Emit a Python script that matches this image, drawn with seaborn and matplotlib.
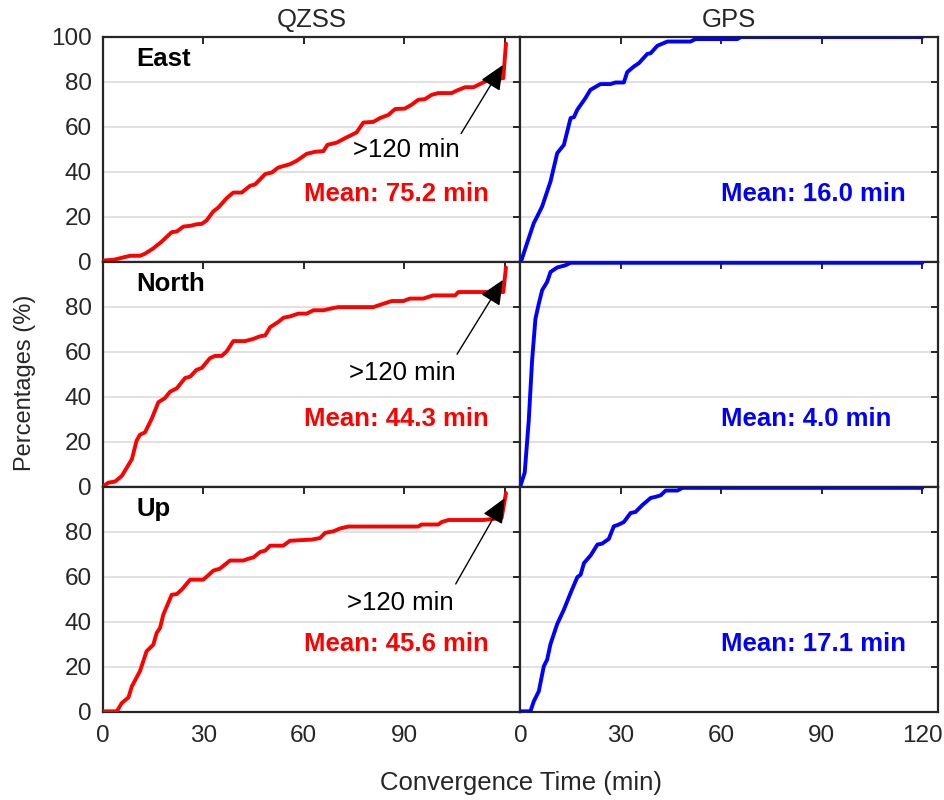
import numpy as np
import pandas as pd
import matplotlib
matplotlib.use("Agg")
import matplotlib.pyplot as plt
import seaborn as sns

# ---------------- data ----------------
qzss_east_t = [0, 3.2, 6.2, 8.2, 11.1, 12.6, 15.1, 17.6, 20.6, 22.1, 24.1, 26.1, 28, 29.6, 31, 33,
               34.5, 37, 39, 41.5, 44, 45.5, 48.5, 50.5, 52.4, 55.9, 57.9, 60.9, 63.4, 65.9, 67.1,
               69.9, 72.8, 75.8, 77.8, 80.8, 82.8, 85.3, 87.3, 90.2, 92.2, 94.2, 96.2, 98.2, 100.2,
               104.2, 105.7, 108.2, 110.7, 113.2, 115.6, 119.6, 120.4]
qzss_east_p = [0.6, 0.9, 2, 2.7, 2.7, 3.6, 6, 9, 13.2, 13.5, 15.7, 16, 16.7, 16.9, 18.4, 22.4,
               24.1, 28.3, 30.8, 30.8, 33.8, 34.4, 39, 39.7, 41.9, 43.4, 44.9, 48, 48.9, 49.2, 52,
               53, 55.3, 57.5, 61.9, 62.2, 63.9, 65.3, 67.9, 68.1, 69.8, 72, 72.3, 74.2, 75,
               75, 76.1, 77.6, 77.6, 79.4, 81.2, 81.6, 97]

gps_east_t = [0.3, 2, 4, 5, 6.5, 9, 11, 13, 15, 16, 17, 19.4, 20.9, 23.9, 26.9, 28.4, 30.9, 31.9,
              33.9, 35.4, 37.9, 38.9, 40.9, 43.9, 50.8, 52.3, 64.8, 65.8, 120]
gps_east_p = [0.6, 8.3, 17.2, 20.1, 24.6, 35.7, 48.3, 52, 63.9, 64.3, 67.6, 72.7, 76.4, 79, 79,
              79.7, 79.7, 84.3, 86.8, 88.3, 92.4, 92.7, 96, 97.9, 97.9, 99, 99, 99.9, 99.9]

qzss_north_t = [0.2, 1.7, 3.7, 5.7, 7.2, 8.7, 10.1, 11.1, 12.6, 14.6, 16.6, 18.6, 20.1, 22.1, 24.6,
                26.1, 28, 29.6, 32, 33.5, 35.5, 37, 39, 42.5, 45, 46.9, 48.5, 50, 52.4, 54, 56,
                58.4, 60.9, 62.9, 65.9, 67.9, 70.3, 80.8, 83.8, 86.3, 89.8, 91.7, 95.7, 98.7,
                105.2, 106.2, 119.6, 120.4]
qzss_north_p = [0.4, 1.9, 2.4, 4.9, 8.6, 12.3, 20.5, 23.2, 24.2, 30.2, 37.6, 39.5, 42.3, 43.8, 48.4,
                49, 52, 52.9, 57.2, 58.2, 58.2, 60.2, 64.8, 64.8, 65.8, 66.9, 67.3, 71, 73.3, 75.2,
                75.8, 77, 77, 78.5, 78.5, 79.2, 79.9, 79.9, 81.4, 82.6, 82.6, 83.7, 83.7, 85.1,
                85.1, 86.6, 86.6, 97.5]

gps_north_t = [0, 1.3, 2.5, 3.5, 4.5, 5.5, 6.5, 8, 9, 11, 13.5, 15, 120]
gps_north_p = [0.4, 6.4, 29.4, 56.2, 74.7, 81.4, 87.4, 91.1, 95.5, 97.5, 98.5, 99.6, 99.6]

qzss_up_t = [0, 4.2, 5.7, 7.7, 8.7, 11.1, 13.1, 15.1, 16.1, 17.1, 18.1, 20.6, 22.1, 23.6, 26.1, 30,
             31.5, 33, 35, 38, 42, 43.5, 45, 47, 48.5, 50, 53.9, 55.9, 62.4, 64.9, 66.4, 68.9,
             70.8, 73.3, 94.2, 95.2, 100.2, 101.2, 103.2, 113.6, 119.1, 120.4]
qzss_up_p = [0.3, 0.3, 4, 6.5, 11.4, 18.1, 27, 29.9, 35.1, 37.3, 43.3, 52.1, 52.4, 54.4, 58.8, 58.8,
             60.7, 62.8, 63.7, 67.3, 67.3, 68.1, 68.7, 71.1, 71.7, 73.9, 73.9, 76.1, 76.6, 77.3,
             79.6, 80.3, 81.5, 82.4, 82.4, 83.3, 83.3, 84.4, 85.3, 85.3, 86.2, 97.3]

gps_up_t = [0.3, 3, 4, 5.5, 7, 8, 9, 11, 13, 15, 17, 18, 19, 21, 23, 24.4, 26.4, 27.9, 29.4, 30.9,
            32.9, 34.4, 36.4, 38.9, 40.4, 41.9, 43.4, 46.9, 48.4, 120]
gps_up_p = [0.3, 0.3, 4.7, 9.2, 20.3, 23.3, 30.2, 39.1, 45.5, 52.9, 59.9, 61, 66.2, 69.6, 74.4,
            74.8, 76.9, 82.5, 83.3, 84.4, 88.4, 88.9, 91.9, 95.1, 95.6, 96.3, 98.4, 98.4, 99.6, 99.6]

components = ["East", "North", "Up"]
systems = ["QZSS", "GPS"]
qzss_means = [75.2, 44.3, 45.6]
gps_means = [16.0, 4.0, 17.1]
x_ticks = [0, 30, 60, 90, 120]
y_ticks = [0, 20, 40, 60, 80, 100]

# annotation positions (text, tail, head) in data coords per component
arrow_text = [(90.5, 49.8), (89.4, 50.7), (88.8, 48.4)]
arrow_tail = [(107.0, 57.0), (105.8, 59.0), (105.4, 56.9)]
arrow_head = [(119.5, 87.5), (119.5, 92.0), (120.0, 95.0)]

series = {
    ("East", "QZSS"): (qzss_east_t, qzss_east_p),
    ("East", "GPS"): (gps_east_t, gps_east_p),
    ("North", "QZSS"): (qzss_north_t, qzss_north_p),
    ("North", "GPS"): (gps_north_t, gps_north_p),
    ("Up", "QZSS"): (qzss_up_t, qzss_up_p),
    ("Up", "GPS"): (gps_up_t, gps_up_p),
}

# ---------------- style ----------------
sns.set_style("white")
plt.rcParams["font.family"] = ["Liberation Sans", "DejaVu Sans"]
plt.rcParams["text.color"] = "#262626"
plt.rcParams["axes.labelcolor"] = "#262626"
plt.rcParams["xtick.color"] = "#262626"
plt.rcParams["ytick.color"] = "#262626"

TXT = 18.5

fig, axes = plt.subplots(3, 2, figsize=(9.45, 8.0), dpi=100)
fig.subplots_adjust(left=0.1087, right=0.9926, top=0.954, bottom=0.11, wspace=0, hspace=0)

colors = {"QZSS": "#FF0000", "GPS": "#0000FF"}

for r, comp in enumerate(components):
    for c, sysname in enumerate(systems):
        ax = axes[r, c]
        t, p = series[(comp, sysname)]
        df = pd.DataFrame({"t": t, "p": p})
        sns.lineplot(data=df, x="t", y="p", ax=ax, color=colors[sysname], lw=2.8,
                     sort=False, estimator=None, zorder=3)
        ax.set_xlim(0, 124.7)
        ax.set_ylim(0, 100)
        ax.set_xlabel("")
        ax.set_ylabel("")
        ax.set_xticks(x_ticks)
        ax.set_yticks(y_ticks)
        ax.yaxis.grid(True, color="#dcdcdc", lw=1.2)
        ax.xaxis.grid(False)
        ax.set_axisbelow(True)
        for s in ax.spines.values():
            s.set_color("#262626")
            s.set_linewidth(1.6)
        ax.tick_params(direction="in", length=5, width=1.4, top=True, right=True,
                       labelsize=17.5)
        ax.tick_params(axis="x", pad=9)
        ax.tick_params(axis="y", pad=8)
        # tick labels
        if r == 2:
            labs = [str(v) for v in x_ticks]
            if c == 0:
                labs[-1] = ""
            ax.set_xticklabels(labs)
        else:
            ax.set_xticklabels([])
        if c == 0:
            labs = [str(v) for v in y_ticks]
            if r > 0:
                labs[-1] = ""
            ax.set_yticklabels(labs)
        else:
            ax.set_yticklabels([])

        mean = qzss_means[r] if sysname == "QZSS" else gps_means[r]
        ax.text(60, 30, f"Mean: {mean:.1f} min", color=colors[sysname], fontsize=TXT,
                fontweight="bold", ha="left", va="center")
        if c == 0:
            ax.text(10, 90, comp, fontsize=TXT, fontweight="bold", color="black",
                    ha="left", va="center")
            ax.annotate("", xy=arrow_head[r], xytext=arrow_tail[r],
                        arrowprops=dict(arrowstyle="-|>,head_length=0.9,head_width=0.4",
                                        color="black", lw=1.0, shrinkA=0, shrinkB=0,
                                        mutation_scale=17), zorder=5)
            ax.text(arrow_text[r][0], arrow_text[r][1], ">120 min", fontsize=TXT,
                    color="black", ha="center", va="center")
        if r == 0:
            ax.set_title(sysname, fontsize=TXT, pad=7)

fig.text(0.026, 0.521, "Percentages (%)", rotation=90, fontsize=17,
         ha="center", va="center", color="#262626")
fig.text(0.551, 0.021, "Convergence Time (min)", fontsize=TXT,
         ha="center", va="center", color="#262626")

fig.savefig("out.png", dpi=100)
